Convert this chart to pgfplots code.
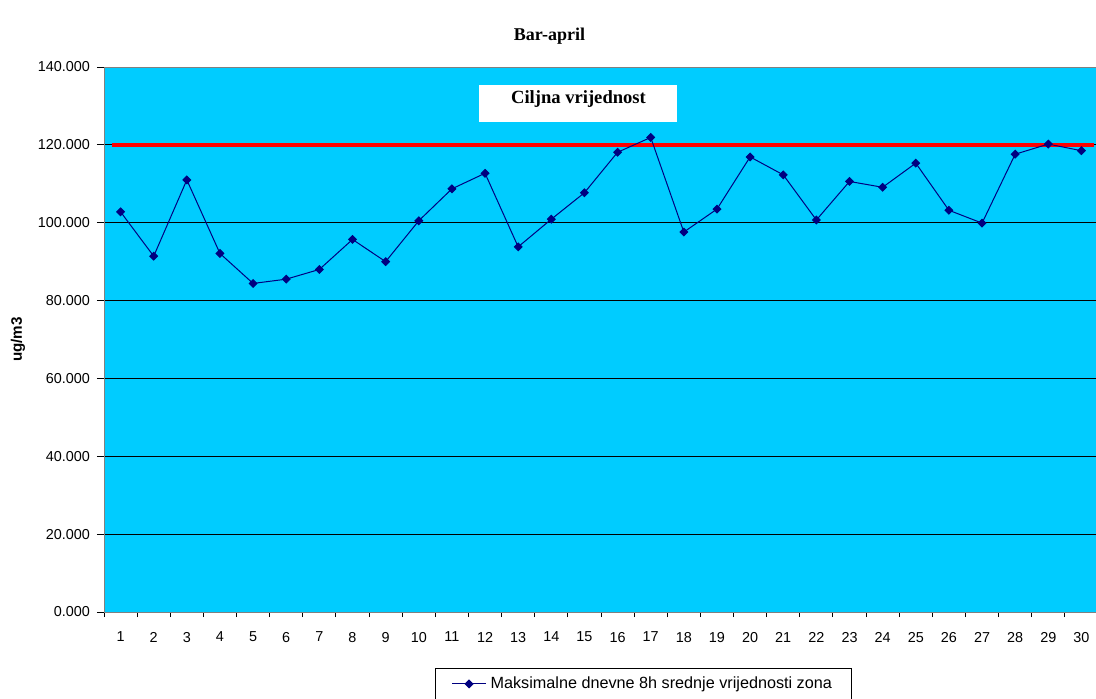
\documentclass[border=0pt]{standalone}
\usepackage{pgfplots}
\pgfplotsset{compat=1.18}
\usepackage{fontspec}
\setmainfont{Liberation Sans}
\newfontfamily\serfont{Liberation Serif}
\definecolor{bgblue}{HTML}{00CCFF}
\definecolor{navy}{HTML}{000080}
\begin{document}
\begin{tikzpicture}
\path[use as bounding box] (-52pt,-43pt) rectangle (496pt,306pt);
\begin{axis}[
  scale only axis,
  width=497pt, height=272.5pt,
  xmin=0.5, xmax=30.5,
  ymin=0, ymax=140,
  axis background/.style={fill=bgblue},
  axis line style={draw=gray},
  xtick={1,...,30},
  minor xtick={0.5,1.5,...,30.5},
  xtick pos=bottom, ytick pos=left,
  tick align=outside,
  major x tick style={draw=none},
  minor x tick style={black, line width=0.5pt},
  minor tick length=2.5pt,
  ytick={0,20,...,140},
  major y tick style={black, line width=0.5pt},
  major tick length=3.5pt,
  ymajorgrids,
  major grid style={black, line width=0.5pt},
  tick label style={font=\fontsize{7.2}{8}\selectfont, /pgf/number format/assume math mode=true},
  xticklabel style={yshift=-3pt},
  yticklabel style={/pgf/number format/.cd, fixed, fixed zerofill, precision=3, 1000 sep={}, assume math mode=true},
  ylabel={\bfseries ug/m3},
  ylabel style={at={(axis description cs:-0.0865,0.5)}, anchor=center, font=\fontsize{7.6}{9}\selectfont},
  legend style={at={(axis description cs:0.3330,-0.1028)}, anchor=north west, draw=black, line width=0.5pt, font=\fontsize{8.1}{9}\selectfont, inner xsep=8pt, inner ysep=2pt, legend cell align=left},
  clip=false,
]
\addplot[red, line width=1.8pt, forget plot] coordinates {(0.74,120) (30.38,120)};
\addplot[navy, line width=0.5pt, mark=square*, mark size=1.35pt, mark options={rotate=45, fill=navy, draw=navy}] coordinates {
(1,102.8) (2,91.4) (3,111.0) (4,92.1) (5,84.4) (6,85.5) (7,88.0) (8,95.7) (9,90.0) (10,100.5)
(11,108.7) (12,112.7) (13,93.8) (14,100.9) (15,107.7) (16,118.1) (17,121.9) (18,97.6) (19,103.5) (20,116.9)
(21,112.3) (22,100.7) (23,110.6) (24,109.1) (25,115.3) (26,103.2) (27,99.9) (28,117.6) (29,120.2) (30,118.5)};
\addlegendentry{Maksimalne dnevne 8h srednje vrijednosti zona}
\end{axis}
\fill[white] (187.5pt,245pt) rectangle (286.5pt,263.5pt);
\node[anchor=base, font=\serfont\bfseries\fontsize{9.3}{11}\selectfont, inner sep=0pt] at (237.25pt,254.5pt) {Ciljna vrijednost};
\node[anchor=base, font=\serfont\bfseries\fontsize{9}{11}\selectfont, inner sep=0pt] at (222.75pt,286pt) {Bar-april};
\end{tikzpicture}
\end{document}
